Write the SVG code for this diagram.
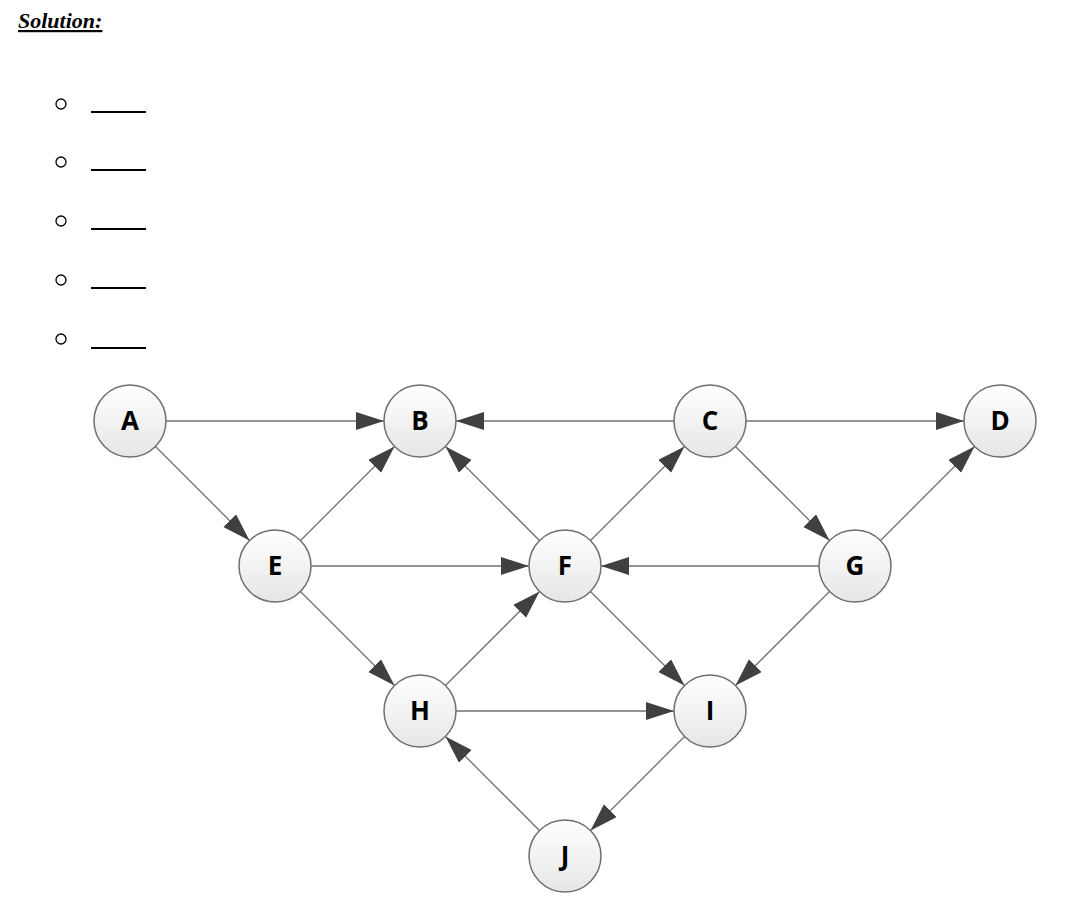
<svg xmlns="http://www.w3.org/2000/svg" width="1068" height="912" viewBox="0 0 1068 912">
<style>
.title{font-family:"Liberation Serif",serif;font-weight:bold;font-style:italic;font-size:22px;text-decoration:underline;fill:#000}
.bul{fill:none;stroke:#000;stroke-width:1.3}
.blank{stroke:#000;stroke-width:2}
.node circle{fill:url(#g);stroke:#6e6e6e;stroke-width:1.5}
.node text{font-family:"Open Sans","DejaVu Sans",sans-serif;font-weight:bold;font-size:26px;text-anchor:middle;fill:#000}
.edge{stroke:#707070;stroke-width:1.3;fill:none;marker-end:url(#ah)}
</style>
<defs>
<linearGradient id="g" x1="0" y1="0" x2="0" y2="1">
<stop offset="0" stop-color="#ffffff"/>
<stop offset="1" stop-color="#e6e6e6"/>
</linearGradient>
<marker id="ah" markerUnits="userSpaceOnUse" markerWidth="30" markerHeight="20" refX="28" refY="9" orient="auto">
<path d="M0,0 L28,9 L0,18 z" fill="#404040"/>
</marker>
</defs>
<rect width="1068" height="912" fill="#fff"/>
<text class="title" x="18" y="28">Solution:</text>
<g id="list">
<circle class="bul" cx="61" cy="104" r="5"/><line class="blank" x1="91" y1="112" x2="146" y2="112"/>
<circle class="bul" cx="61" cy="162" r="5"/><line class="blank" x1="91" y1="170" x2="146" y2="170"/>
<circle class="bul" cx="61" cy="221" r="5"/><line class="blank" x1="91" y1="229" x2="146" y2="229"/>
<circle class="bul" cx="61" cy="280" r="5"/><line class="blank" x1="91" y1="288" x2="146" y2="288"/>
<circle class="bul" cx="61" cy="339" r="5"/><line class="blank" x1="91" y1="348" x2="146" y2="348"/>
</g>
<g id="connectors">
<line class="edge" x1="166" y1="421" x2="384" y2="421"/>
<line class="edge" x1="674" y1="421" x2="456" y2="421"/>
<line class="edge" x1="746" y1="421" x2="964" y2="421"/>
<line class="edge" x1="155.5" y1="446.5" x2="249.5" y2="540.5"/>
<line class="edge" x1="300.5" y1="540.5" x2="394.5" y2="446.5"/>
<line class="edge" x1="539.5" y1="540.5" x2="445.5" y2="446.5"/>
<line class="edge" x1="590.5" y1="540.5" x2="684.5" y2="446.5"/>
<line class="edge" x1="735.5" y1="446.5" x2="829.5" y2="540.5"/>
<line class="edge" x1="880.5" y1="540.5" x2="974.5" y2="446.5"/>
<line class="edge" x1="311" y1="566" x2="529" y2="566"/>
<line class="edge" x1="819" y1="566" x2="601" y2="566"/>
<line class="edge" x1="300.5" y1="591.5" x2="394.5" y2="685.5"/>
<line class="edge" x1="445.5" y1="685.5" x2="539.5" y2="591.5"/>
<line class="edge" x1="590.5" y1="591.5" x2="684.5" y2="685.5"/>
<line class="edge" x1="829.5" y1="591.5" x2="735.5" y2="685.5"/>
<line class="edge" x1="456" y1="711" x2="674" y2="711"/>
<line class="edge" x1="684.5" y1="736.5" x2="590.5" y2="830.5"/>
<line class="edge" x1="539.5" y1="830.5" x2="445.5" y2="736.5"/>
</g>
<g id="A" class="node"><circle cx="130" cy="421" r="36"/><text x="130" y="430">A</text></g>
<g id="B" class="node"><circle cx="420" cy="421" r="36"/><text x="420" y="430">B</text></g>
<g id="C" class="node"><circle cx="710" cy="421" r="36"/><text x="710" y="430">C</text></g>
<g id="D" class="node"><circle cx="1000" cy="421" r="36"/><text x="1000" y="430">D</text></g>
<g id="E" class="node"><circle cx="275" cy="566" r="36"/><text x="275" y="575">E</text></g>
<g id="F" class="node"><circle cx="565" cy="566" r="36"/><text x="565" y="575">F</text></g>
<g id="G" class="node"><circle cx="855" cy="566" r="36"/><text x="855" y="575">G</text></g>
<g id="H" class="node"><circle cx="420" cy="711" r="36"/><text x="420" y="720">H</text></g>
<g id="I" class="node"><circle cx="710" cy="711" r="36"/><text x="710" y="720">I</text></g>
<g id="J" class="node"><circle cx="565" cy="856" r="36"/><text x="565" y="865">J</text></g>
</svg>
